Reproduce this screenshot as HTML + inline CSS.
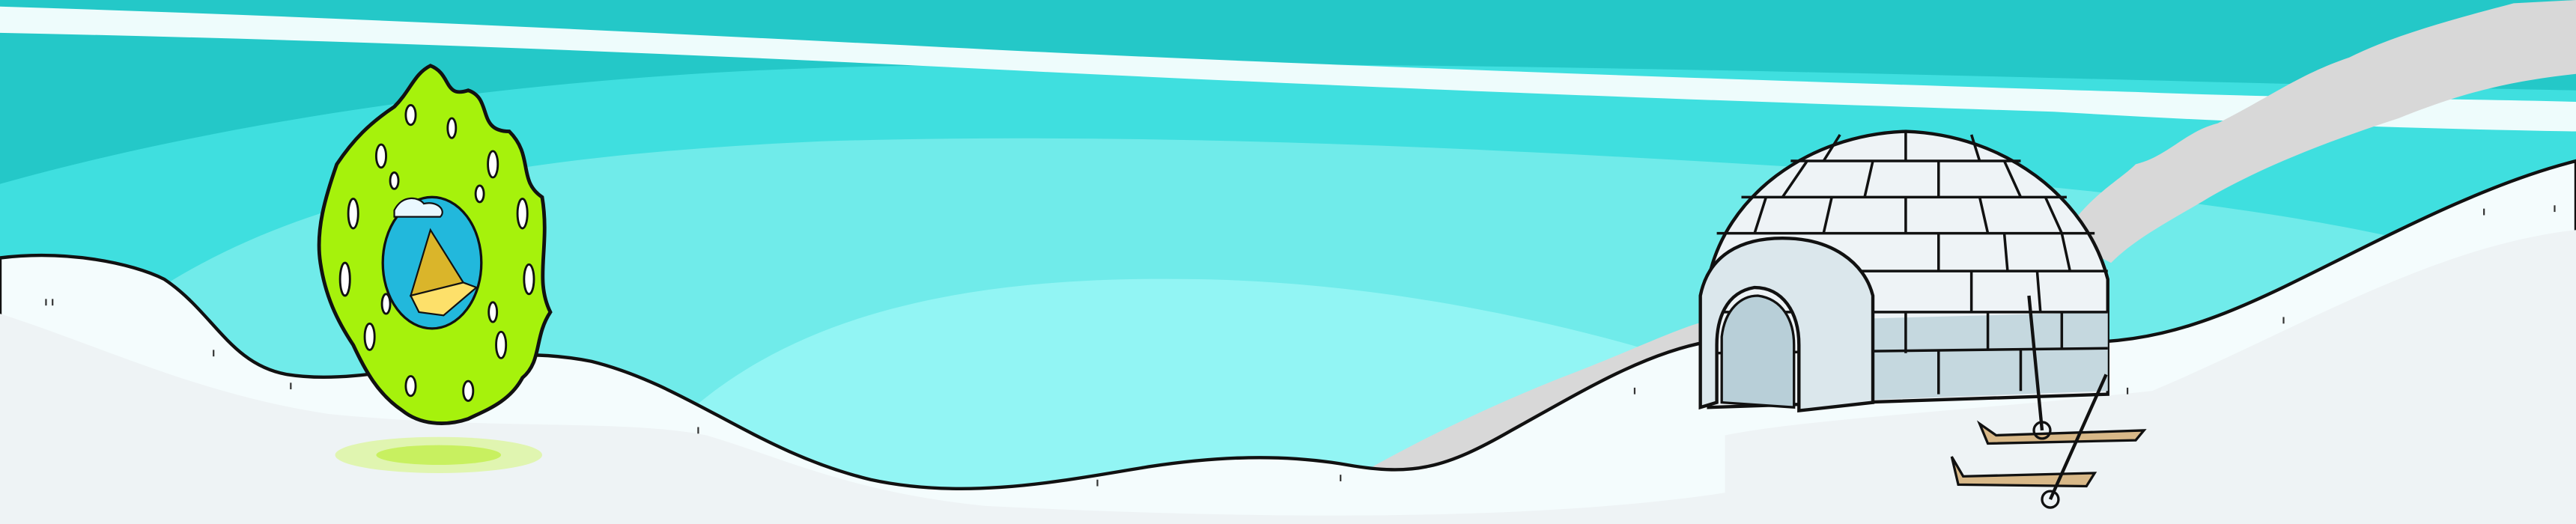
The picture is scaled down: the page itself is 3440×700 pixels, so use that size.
<!DOCTYPE html>
<html><head><meta charset="utf-8"><style>
html,body{margin:0;padding:0;width:3440px;height:700px;overflow:hidden;background:#24c8c8}
svg{display:block}
</style></head><body>
<svg width="3440" height="700" viewBox="0 0 1568 319" preserveAspectRatio="none" xmlns="http://www.w3.org/2000/svg">
<rect x="0" y="0" width="1568" height="319" fill="#24c8c8"/>
<path d="M0,112 C150,70 350,42 560,40 C900,35 1300,50 1568,55 L1568,319 L0,319Z" fill="#3fdfdf"/>
<path d="M90,180 C180,120 300,95 500,86 C700,80 900,90 1100,102 C1250,112 1370,125 1460,145 L1568,180 L1568,319 L0,319Z" fill="#70ebea"/>
<path d="M420,250 C500,180 620,168 730,170 C850,172 960,200 1010,215 L1010,319 L420,319Z" fill="#92f5f4"/>
<path d="M0,4 C200,10 400,20 600,30 C800,40 1100,50 1300,56 C1400,60 1500,60 1568,62 L1568,80 C1450,78 1350,74 1250,68 C1000,60 800,52 600,42 C400,32 200,24 0,20Z" fill="#eefcfc"/>
<path d="M825,290 C860,270 900,250 950,230 C990,215 1020,200 1040,195 L1040,215 L870,290Z" fill="#d8d8d8"/>
<path d="M1255,145 C1270,120 1290,110 1300,100 C1320,95 1330,80 1350,75 C1380,60 1400,45 1430,35 C1460,20 1500,10 1530,2 L1568,0 L1568,45 C1520,50 1490,60 1460,72 C1420,85 1380,100 1345,120 C1320,135 1300,145 1285,160Z" fill="#d8d8d8"/>
<path d="M0,157 C40,152 80,160 100,170 C130,190 140,222 175,228 C200,232 230,228 260,222 C300,215 330,214 360,220 C420,235 460,275 530,292 C590,305 650,292 700,284 C740,278 780,276 820,283 C860,290 880,285 920,262 C960,240 1000,215 1040,208 L1280,208 C1330,205 1370,185 1420,160 C1470,135 1520,110 1568,98 L1568,319 L0,319Z" fill="#f4fcfd" stroke="#111" stroke-width="2"/>
<path d="M0,191 C60,210 120,240 200,252 C300,262 380,255 430,265 C480,280 520,300 600,308 C800,318 950,315 1050,300 L1050,265 C1100,255 1200,250 1310,238 C1400,200 1480,150 1568,140 L1568,319 L0,319Z" fill="#eef3f5"/>
<g stroke="#333" stroke-width="1">
<line x1="28" y1="182" x2="28" y2="186"/><line x1="32" y1="182" x2="32" y2="186"/><line x1="130" y1="213" x2="130" y2="217"/><line x1="177" y1="233" x2="177" y2="237"/><line x1="425" y1="260" x2="425" y2="264"/><line x1="668" y1="292" x2="668" y2="296"/><line x1="816" y1="289" x2="816" y2="293"/><line x1="995" y1="236" x2="995" y2="240"/><line x1="1295" y1="236" x2="1295" y2="240"/><line x1="1390" y1="193" x2="1390" y2="197"/><line x1="1512" y1="127" x2="1512" y2="131"/><line x1="1555" y1="125" x2="1555" y2="129"/>
</g>
<g>
<ellipse cx="267" cy="277" rx="63" ry="11" fill="#e0f5b0"/>
<ellipse cx="267" cy="277" rx="38" ry="6" fill="#c8f060"/>
<path d="M262,40 C275,45 270,60 285,55 C300,60 290,80 310,80 C325,95 315,110 330,120 C335,150 325,170 335,190 C325,205 330,220 318,230 C310,245 295,250 285,255 C270,260 255,258 245,250 C230,240 222,225 215,210 C205,195 198,180 195,160 C192,140 198,120 205,100 C215,85 225,75 240,65 C250,55 252,45 262,40Z" fill="#a6f20c" stroke="#111" stroke-width="2.2"/>
<ellipse cx="263" cy="160" rx="30" ry="40" fill="#22b8dc" stroke="#111" stroke-width="1.5"/>
<path d="M262,140 L282,172 L250,180Z" fill="#dab52a" stroke="#111" stroke-width="1"/>
<path d="M250,180 L282,172 L290,175 L270,192 L255,190Z" fill="#fde06a" stroke="#111" stroke-width="1"/>
<path d="M240,128 C245,118 255,120 258,124 C266,122 272,128 268,132 L240,132Z" fill="#eaf8ff" stroke="#111" stroke-width="1"/>
<g fill="#fff" stroke="#111" stroke-width="1.3">
<ellipse cx="250" cy="70" rx="3" ry="6"/><ellipse cx="275" cy="78" rx="2.5" ry="6"/><ellipse cx="232" cy="95" rx="3" ry="7"/><ellipse cx="300" cy="100" rx="3" ry="8"/><ellipse cx="215" cy="130" rx="3" ry="9"/><ellipse cx="318" cy="130" rx="3" ry="9"/><ellipse cx="210" cy="170" rx="3" ry="10"/><ellipse cx="322" cy="170" rx="3" ry="9"/><ellipse cx="225" cy="205" rx="3" ry="8"/><ellipse cx="305" cy="210" rx="3" ry="8"/><ellipse cx="250" cy="235" rx="3" ry="6"/><ellipse cx="285" cy="238" rx="3" ry="6"/><ellipse cx="240" cy="110" rx="2.5" ry="5"/><ellipse cx="292" cy="118" rx="2.5" ry="5"/><ellipse cx="300" cy="190" rx="2.5" ry="6"/><ellipse cx="235" cy="185" rx="2.5" ry="6"/>
</g>
</g>
<g>
<path d="M1040,248 L1040,170 C1050,120 1100,82 1160,80 C1220,82 1270,120 1283,170 L1283,240 L1040,248Z" fill="#eef3f6" stroke="#111" stroke-width="2"/>
<path d="M1095,245 L1283,238 L1283,190 L1095,195Z" fill="#c5d8df"/>
<g stroke="#111" stroke-width="1.6" fill="none">
<path d="M1090,98 L1230,98"/><path d="M1060,120 L1258,120"/><path d="M1045,142 L1275,142"/><path d="M1040,165 L1283,165"/><path d="M1040,190 L1283,190"/><path d="M1040,215 L1283,212"/>
<path d="M1120,82 L1110,98 M1160,80 L1160,98 M1200,82 L1205,98 M1100,98 L1085,120 M1140,98 L1135,120 M1180,98 L1180,120 M1220,98 L1230,120 M1075,120 L1068,142 M1115,120 L1110,142 M1160,120 L1160,142 M1205,120 L1210,142 M1245,120 L1255,142 M1180,142 L1180,165 M1220,142 L1222,165 M1255,142 L1260,165 M1200,165 L1200,190 M1240,165 L1242,190 M1160,190 L1160,215 M1210,190 L1210,213 M1255,190 L1255,212 M1180,213 L1180,240 M1230,212 L1230,238"/>
</g>
<path d="M1035,248 L1035,180 C1040,155 1060,145 1085,145 C1115,145 1135,160 1140,180 L1140,245 L1095,250 L1095,210 C1095,190 1085,175 1068,175 C1050,178 1045,195 1045,210 L1045,245Z" fill="#dbe7ec" stroke="#111" stroke-width="2"/>
<path d="M1048,245 L1048,205 C1050,188 1060,180 1070,180 C1085,182 1092,195 1092,210 L1092,248Z" fill="#b8cfd8" stroke="#111" stroke-width="1.5"/>
</g>
<g>
<path d="M1205,258 L1210,270 L1300,268 L1305,262 L1215,265Z" fill="#d8b888" stroke="#111" stroke-width="1.5"/>
<path d="M1188,278 L1192,295 L1270,296 L1275,288 L1195,290Z" fill="#d8b888" stroke="#111" stroke-width="1.5"/>
<line x1="1235" y1="180" x2="1243" y2="262" stroke="#111" stroke-width="2"/>
<circle cx="1243" cy="262" r="5" fill="none" stroke="#111" stroke-width="1.5"/>
<line x1="1282" y1="228" x2="1248" y2="304" stroke="#111" stroke-width="2"/>
<circle cx="1248" cy="304" r="5" fill="none" stroke="#111" stroke-width="1.5"/>
</g>
</svg>
</body></html>
